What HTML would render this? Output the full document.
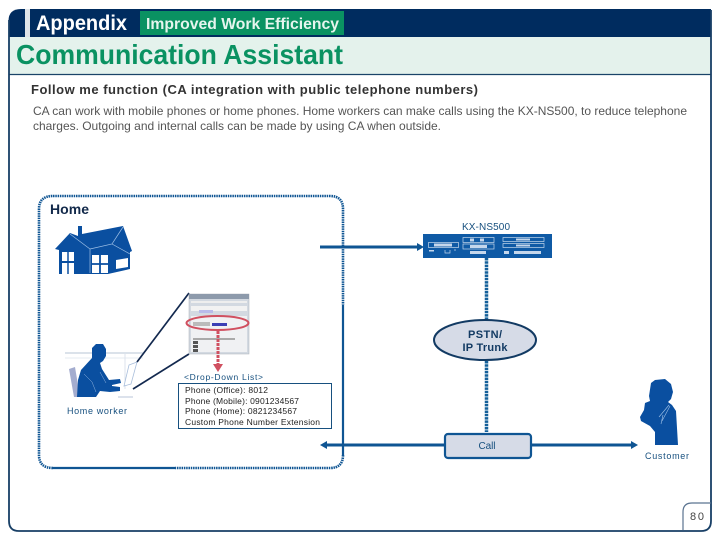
<!DOCTYPE html>
<html><head><meta charset="utf-8"><style>
html,body{margin:0;padding:0;background:#fff}
svg{display:block}
text{font-family:"Liberation Sans",sans-serif}
</style></head><body>
<svg width="720" height="540" viewBox="0 0 720 540" xmlns="http://www.w3.org/2000/svg">
<rect width="720" height="540" fill="#fff"/>
<!-- frame -->
<path d="M21 9H711V37H8.500V21Q8.500 9 21 9Z" fill="#002c5f"/>
<rect x="9" y="37" width="702" height="37" fill="#e4f2ec"/>
<line x1="9" y1="74.500" x2="711" y2="74.500" stroke="#1a4468" stroke-width="1.200"/>
<path d="M9 20V521Q9 531 19 531H701Q711 531 711 521V10" fill="none" stroke="#183f66" stroke-width="1.800"/>
<rect x="25" y="9" width="5" height="28" fill="#dfe4e8"/>
<rect x="140" y="11" width="204" height="24" fill="#0a9262"/>
<text x="36" y="30" font-size="21" font-weight="bold" fill="#fff" textLength="91" lengthAdjust="spacingAndGlyphs">Appendix</text>
<text x="146" y="29" font-size="15.500" font-weight="bold" fill="#e6f5ee" textLength="193" lengthAdjust="spacingAndGlyphs">Improved Work Efficiency</text>
<text x="16" y="64" font-size="28" font-weight="bold" fill="#0a9262" textLength="327" lengthAdjust="spacingAndGlyphs">Communication Assistant</text>
<text x="31" y="94" font-size="13" font-weight="bold" fill="#333" textLength="447" lengthAdjust="spacing">Follow me function (CA integration with public telephone numbers)</text>
<text x="33" y="115" font-size="12" fill="#555" textLength="654" lengthAdjust="spacing">CA can work with mobile phones or home phones. Home workers can make calls using the KX-NS500, to reduce telephone</text>
<text x="33" y="130" font-size="12" fill="#555" textLength="408" lengthAdjust="spacing">charges. Outgoing and internal calls can be made by using CA when outside.</text>

<!-- home box -->
<path d="M53 196H330Q343 196 343 209V305M343 455Q343 468 330 468H175M53 468Q39 468 39 455V209Q39 196 53 196" fill="none" stroke="#0f5593" stroke-width="2.600" stroke-dasharray="1.500 .8"/>
<path d="M343 305V455" stroke="#0f5593" stroke-width="2.200" fill="none"/>
<path d="M53 468H175" stroke="#0f5593" stroke-width="2.200" fill="none"/>
<text x="50" y="214" font-size="14" font-weight="bold" fill="#12294a" textLength="39" lengthAdjust="spacing">Home</text>

<!-- house -->
<g>
<path d="M55 249L70 233L78 236V226H82V234L123 226L132 251L130 252L130 269L108 274L59 274V250Z" fill="#0a4fa0"/>
<path d="M70 234L90 249V273M90 249L112 244L123 227M112 244L130 254" fill="none" stroke="#9fc0e6" stroke-width=".7"/>
<path d="M62 252H74V261H62ZM62 263H74V274H62Z" fill="#fff"/>
<line x1="68" y1="252" x2="68" y2="274" stroke="#0a4fa0" stroke-width="1.500"/>
<path d="M92 255H108V273H92Z" fill="#fff"/>
<path d="M100 255V273M92 264H108" stroke="#0a4fa0" stroke-width="1.800"/>
<path d="M116 260L128 258V267L116 269Z" fill="#fff"/>
</g>

<!-- home worker -->
<path d="M65 353H143" stroke="#cfd8e4" stroke-width="1.500"/>
<path d="M65 358H143" stroke="#e6ebf2" stroke-width="1"/>
<path d="M125 354V389" stroke="#dde3ec" stroke-width="1"/>
<path d="M69 369L75 367L80 397H74Z" fill="#a4adcf"/>
<path d="M92 348L96 344L103 344L106 349L106 356L103 361L100 363L102 369L109 380L120 379L121 383L112 385L112 386L120 387L120 391L110 392L100 391L96 397H77L78 380L81 370L92 358Z" fill="#0a4fa0"/>
<path d="M84 374L92 382L96 392M100 372L106 383" stroke="#8fb2de" stroke-width=".5" fill="none"/>
<path d="M129 365L137 362L131 384L124 386Z" fill="#fff" stroke="#a9bedb" stroke-width=".8"/>
<path d="M118 397H133" stroke="#b9c6da" stroke-width="1"/>
<path d="M137 362L189 293M133 389L189 354" stroke="#13294f" stroke-width="1.700" fill="none"/>
<text x="67" y="414" font-size="9" fill="#17507f" textLength="60" lengthAdjust="spacing">Home worker</text>

<!-- screenshot -->
<rect x="189" y="294" width="60" height="60" fill="#d3d9e1" stroke="#a9b0b8" stroke-width=".5"/>
<rect x="189" y="294" width="60" height="5" fill="#8d9aab"/>
<rect x="191" y="301" width="56" height="2" fill="#eee"/>
<rect x="191" y="306" width="56" height="5" fill="#f2f2f2"/>
<rect x="199" y="310" width="14" height="3" fill="#b9bbea"/>
<rect x="191" y="316" width="56" height="36" fill="#f0f1f3"/>
<rect x="212" y="323" width="15" height="3" fill="#3b3fb5"/>
<rect x="193" y="322" width="17" height="4" fill="#bbb"/>
<rect x="193" y="338" width="42" height="2" fill="#aaa"/>
<path d="M193 341h5v3h-5zM193 345h5v3h-5zM193 349h5v3h-5z" fill="#555"/>
<ellipse cx="217.500" cy="323" rx="31" ry="7" fill="none" stroke="#d05060" stroke-width="2"/>
<path d="M218 331V364" stroke="#d05060" stroke-width="3" stroke-dasharray="3 1" fill="none"/>
<path d="M213 364H223L218 372Z" fill="#d05060"/>
<text x="184" y="380" font-size="8.500" fill="#17507f" textLength="79" lengthAdjust="spacing">&lt;Drop-Down List&gt;</text>
<rect x="178.500" y="383.500" width="153" height="45" fill="#fff" stroke="#17507f" stroke-width="1"/>
<text x="185" y="393" font-size="8.500" fill="#222" textLength="83" lengthAdjust="spacing">Phone (Office): 8012</text>
<text x="185" y="404" font-size="8.500" fill="#222" textLength="114" lengthAdjust="spacing">Phone (Mobile): 0901234567</text>
<text x="185" y="414" font-size="8.500" fill="#222" textLength="112" lengthAdjust="spacing">Phone (Home): 0821234567</text>
<text x="185" y="425" font-size="8.500" fill="#222" textLength="135" lengthAdjust="spacing">Custom Phone Number Extension</text>

<!-- connectors -->
<path d="M320 247H419" stroke="#0f5593" stroke-width="3"/>
<path d="M417 243L424 247L417 251Z" fill="#0f5593"/>
<path d="M326 445H445M531 445H632" stroke="#0f5593" stroke-width="3"/>
<path d="M327 441L320 445L327 449Z" fill="#0f5593"/>
<path d="M631 441L638 445L631 449Z" fill="#0f5593"/>
<path d="M486.500 258V320M486.500 361V432" stroke="#14609a" stroke-width="3.500" stroke-dasharray="2.500 .8"/>

<!-- KX-NS500 -->
<text x="462" y="230" font-size="10" fill="#17507f" textLength="48" lengthAdjust="spacing">KX-NS500</text>
<rect x="423" y="234" width="129" height="24" fill="#0f5aa5"/>
<g fill="none" stroke="#c5d7ec" stroke-width=".7">
<rect x="428.500" y="242.500" width="30" height="5"/>
<rect x="463" y="237.500" width="31" height="5"/>
<rect x="463" y="244" width="31" height="5"/>
<rect x="503" y="237.500" width="41" height="4"/>
<rect x="503" y="243.500" width="41" height="4"/>
<path d="M445 250V253H450V250M454 250H456"/>
</g>
<g fill="#c5d7ec">
<rect x="434" y="243.500" width="18" height="3"/>
<rect x="470" y="251" width="16" height="3"/>
<rect x="504" y="251" width="5" height="3"/>
<rect x="514" y="251" width="27" height="3"/>
<rect x="429" y="250" width="5" height="1.500"/>
<rect x="470" y="245" width="17" height="3"/>
<rect x="470" y="238.500" width="4" height="3"/>
<rect x="480" y="238.500" width="4" height="3"/>
<rect x="516" y="238.500" width="14" height="2"/>
<rect x="516" y="244.500" width="14" height="2"/>
</g>

<!-- PSTN -->
<ellipse cx="485" cy="340" rx="51" ry="20" fill="#d6dbe7" stroke="#123a63" stroke-width="2"/>
<text x="485" y="338" font-size="11" font-weight="bold" fill="#123a63" text-anchor="middle" textLength="34" lengthAdjust="spacing">PSTN/</text>
<text x="485" y="351" font-size="11" font-weight="bold" fill="#123a63" text-anchor="middle" textLength="45" lengthAdjust="spacing">IP Trunk</text>

<!-- call -->
<rect x="445" y="434" width="86" height="24" rx="3" fill="#d6dbe7" stroke="#0f5593" stroke-width="2.200"/>
<text x="487" y="449" font-size="10" fill="#17507f" text-anchor="middle" textLength="17" lengthAdjust="spacing">Call</text>

<!-- customer -->
<path d="M651 383L655 380L665 379L671 384L673 392L671 399L668 402L672 405L676 411L678 445H655L655 432L650 426L641 421L640 417L644 410L645 403L650 401L649 396Z" fill="#0a4fa0"/>
<path d="M659 417L669 405M663 415L661 424M670 406L662 421" stroke="#9fc0e6" stroke-width=".6" fill="none"/>
<text x="645" y="459" font-size="9" fill="#17507f" textLength="44" lengthAdjust="spacing">Customer</text>

<!-- page number -->
<path d="M683 530V512Q683 503 692 503H711" fill="none" stroke="#5a7390" stroke-width="1.200"/>
<text x="690" y="520" font-size="11" fill="#444" textLength="14" lengthAdjust="spacing">80</text>
</svg>
</body></html>
